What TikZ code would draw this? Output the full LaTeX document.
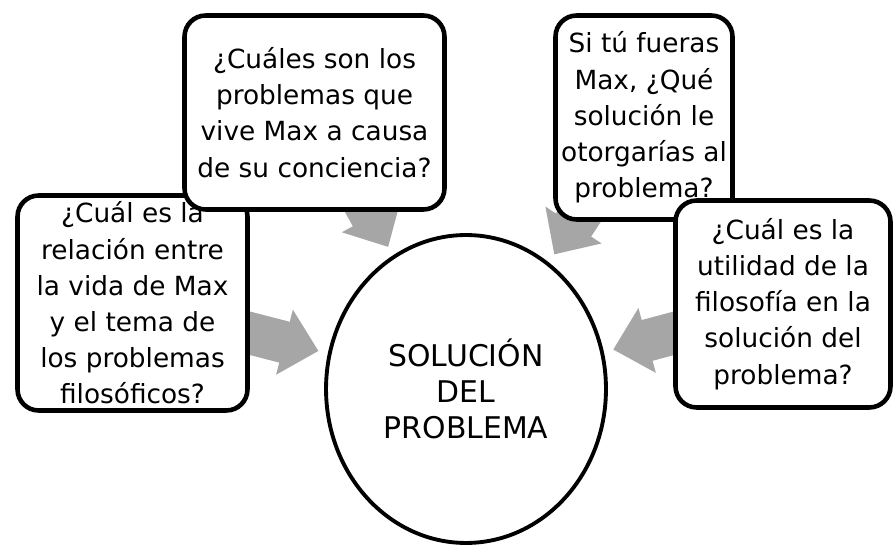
\documentclass[tikz,border=0pt]{standalone}
\usepackage{fontspec}
\setmainfont{DejaVu Sans}
\usetikzlibrary{arrows.meta,shapes.geometric,backgrounds}
\tikzset{
  question/.style={draw, line width=2.6pt, rounded corners=12pt, fill=white,
    align=center, inner sep=0pt, font=\fontsize{15}{20.6}\selectfont},
  goal/.style={ellipse, draw, line width=2.2pt, fill=white, align=center,
    inner sep=0pt, font=\fontsize{17}{20.6}\selectfont},
  feed/.style={line width=24pt, black!35, -{Triangle[width=37pt,length=20pt]},
    shorten >=5.5pt}
}
\begin{document}
\begin{tikzpicture}[x=0.02cm, y=-0.02cm]
    \useasboundingbox (0,0) rectangle (895,546);
    \node[goal, minimum width=5.6cm, minimum height=6.16cm] (sol) at (466,389)
      {SOLUCIÓN\\DEL\\PROBLEMA};
    \node[question, minimum width=4.6cm, minimum height=4.3cm] (vida) at (132.5,303)
      {¿Cuál es la\\relación entre\\la vida de Max\\y el tema de\\los problemas\\filosóficos?};
    \node[question, minimum width=5.2cm, minimum height=3.88cm] (causa) at (314.5,112.5)
      {¿Cuáles son los\\problemas que\\vive Max a causa\\de su conciencia?};
    \node[question, minimum width=3.54cm, minimum height=4.08cm] (max) at (644,117.5)
      {Si tú fueras\\Max, ¿Qué\\solución le\\otorgarías al\\problema?};
    \node[question, minimum width=4.3cm, minimum height=4.14cm] (util) at (783,304)
      {¿Cuál es la\\utilidad de la\\filosofía en la\\solución del\\problema?};
    \begin{pgfonlayer}{background}
      \draw[feed] (vida.center) -- (sol);
      \draw[feed] (causa.center) -- (sol);
      \draw[feed] (max.center) -- (sol);
      \draw[feed] (util.center) -- (sol);
    \end{pgfonlayer}
  \end{tikzpicture}
\end{document}
